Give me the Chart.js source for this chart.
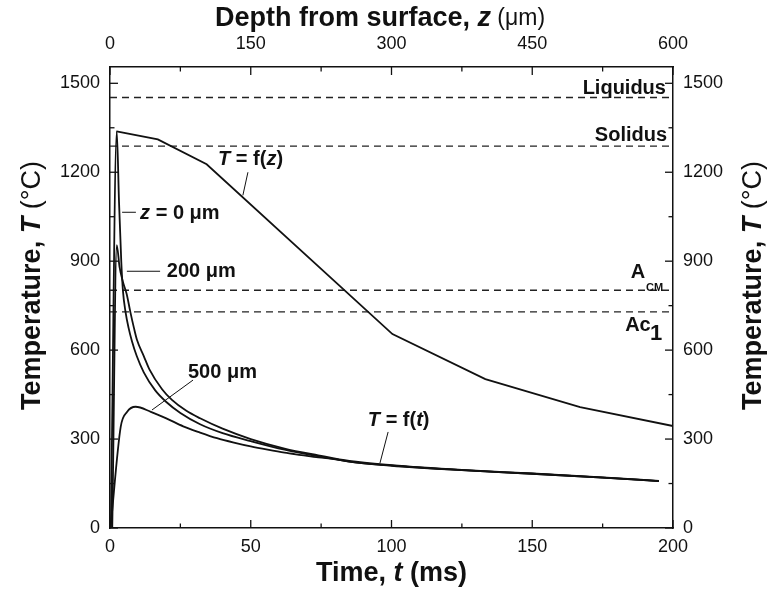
<!DOCTYPE html>
<html>
<head>
<meta charset="utf-8">
<script src="https://cdn.jsdelivr.net/npm/chart.js@4.4.1/dist/chart.umd.min.js"></script>
<style>
  html, body { margin: 0; background: #fff; }
  #wrap { width: 771px; height: 592px; }
</style>
</head>
<body>
<div id="wrap"><canvas id="chart"></canvas></div>
<script>
// tick labels
const timeTicks = [0, 50, 100, 150, 200];
const depthTicks = [0, 150, 300, 450, 600];
const tempTicks = [0, 300, 600, 900, 1200, 1500];

// T = f(t) at z = 0 um
const surfTime = [0.3, 2.4, 3.2, 4.0, 4.6, 5.5, 6.6, 7.8, 9.5, 12, 16, 20, 25, 32, 40, 50, 62, 74, 85, 100, 125, 150, 175, 195];
const surfTemp = [0, 1338, 1100, 900, 800, 730, 675, 630, 580, 525, 465, 425, 388, 350, 320, 293, 264, 242, 224, 210, 195, 183, 170, 158];

// T = f(t) at z = 200 um
const z200Time = [0.8, 2.4, 3.4, 4.6, 5.9, 7.2, 8.5, 9.6, 12, 14, 18.5, 22, 27, 32, 40, 50, 62, 74, 85, 100, 125, 150, 175, 195];
const z200Temp = [0, 954, 880, 830, 790, 730, 675, 634, 580, 535, 468, 432, 396, 370, 335, 300, 268, 245, 226, 212, 196, 184, 171, 159];

// T = f(t) at z = 500 um
const z500Time = [0.2, 3.8, 6.1, 9.1, 14.5, 20, 26, 32, 38, 44, 50, 56, 62, 68, 74, 80, 85, 97, 125, 150, 175, 195];
const z500Temp = [0, 341, 392, 409, 392, 370, 343, 322, 303, 288, 275, 264, 254, 246, 238, 232, 224, 213, 195, 183, 170, 158];

// peak T = f(z), top axis
const peakDepth = [7, 51, 103, 301, 400, 501, 600];
const peakTemp = [1338, 1311, 1227, 654, 502, 408, 344];

// reference temperatures
const refNames = ["Liquidus", "Solidus", "Acm", "Ac1"];
const refTemps = [1452, 1288, 802, 729];

const FONT = "'Liberation Sans', Arial, sans-serif";
const pts = (xs, ys) => xs.map((x, i) => ({ x, y: ys[i] }));

const curve = (label, data, xAxisID, smooth) => ({
  label, data, xAxisID, yAxisID: "y",
  borderColor: "#111", borderWidth: 1.8, pointRadius: 0, fill: false,
  cubicInterpolationMode: smooth ? "monotone" : "default", tension: 0
});

const datasets = [
  curve("z = 0", pts(surfTime, surfTemp), "x", true),
  curve("z = 200", pts(z200Time, z200Temp), "x", true),
  curve("z = 500", pts(z500Time, z500Temp), "x", true),
  curve("T = f(z)", pts(peakDepth, peakTemp), "x2", false)
];
refTemps.forEach((T, i) => {
  datasets.push({
    label: refNames[i],
    data: [{ x: timeTicks[0], y: T }, { x: timeTicks[timeTicks.length - 1], y: T }],
    xAxisID: "x", yAxisID: "y",
    borderColor: "#222", borderWidth: 1.4, borderDash: [7, 5], pointRadius: 0
  });
});

// labels, placed in data units (time ms, temperature)
const notes = [
  { parts: [["T", "italic bold"], [" = f(", "bold"], ["z", "italic bold"], [")", "bold"]], t: 38.4, T: 1244, align: "left" },
  { parts: [["z", "italic bold"], [" = 0 μm", "bold"]], t: 10.7, T: 1062, align: "left" },
  { parts: [["200 μm", "bold"]], t: 20.2, T: 866, align: "left" },
  { parts: [["500 μm", "bold"]], t: 27.7, T: 526, align: "left" },
  { parts: [["T", "italic bold"], [" = f(", "bold"], ["t", "italic bold"], [")", "bold"]], t: 91.6, T: 364, align: "left" },
  { parts: [["Liquidus", "bold"]], t: 197.5, T: 1483, align: "right" },
  { parts: [["Solidus", "bold"]], t: 197.9, T: 1325, align: "right" }
];
const leaders = [
  [49.0, 1200, 47.2, 1122],
  [4.3, 1065, 9.2, 1065],
  [6.0, 866, 17.8, 866],
  [29.5, 499, 14.9, 398],
  [98.8, 324, 95.9, 219]
];

function drawRich(ctx, parts, x, y, size, align, angle) {
  ctx.save();
  ctx.translate(x, y);
  if (angle) ctx.rotate(angle);
  let w = 0;
  parts.forEach(p => { ctx.font = `${p[1]} ${p[2] || size}px ${FONT}`; w += ctx.measureText(p[0]).width; });
  let cx = align === "center" ? -w / 2 : align === "right" ? -w : 0;
  ctx.textBaseline = "middle";
  ctx.textAlign = "left";
  ctx.fillStyle = "#111";
  parts.forEach(p => {
    ctx.font = `${p[1]} ${p[2] || size}px ${FONT}`;
    ctx.fillText(p[0], cx, 0);
    cx += ctx.measureText(p[0]).width;
  });
  ctx.restore();
}

const decor = {
  id: "decor",
  afterDraw(chart) {
    const { ctx, chartArea: a, scales } = chart;
    const { x, x2, y } = scales;
    ctx.save();
    ctx.strokeStyle = "#111";
    ctx.lineWidth = 1.3;
    const seg = (x1, y1, x2_, y2_) => { ctx.beginPath(); ctx.moveTo(x1, y1); ctx.lineTo(x2_, y2_); ctx.stroke(); };
    const withMinor = arr => {
      const out = [];
      arr.forEach((v, i) => { out.push([v, 8]); if (i < arr.length - 1) out.push([(v + arr[i + 1]) / 2, 4.5]); });
      return out;
    };
    withMinor(timeTicks).forEach(([v, l]) => { const p = x.getPixelForValue(v); seg(p, a.bottom, p, a.bottom - l); });
    withMinor(depthTicks).forEach(([v, l]) => { const p = x2.getPixelForValue(v); seg(p, a.top, p, a.top + l); });
    withMinor(tempTicks).forEach(([v, l]) => {
      const p = y.getPixelForValue(v);
      seg(a.left, p, a.left + l, p);
      seg(a.right, p, a.right - l, p);
    });

    // leader lines
    ctx.lineWidth = 1;
    leaders.forEach(([t1, T1, t2, T2]) => seg(x.getPixelForValue(t1), y.getPixelForValue(T1), x.getPixelForValue(t2), y.getPixelForValue(T2)));

    notes.forEach(n => drawRich(ctx, n.parts, x.getPixelForValue(n.t), y.getPixelForValue(n.T), 20, n.align));
    // A_CM and Ac_1
    drawRich(ctx, [["A", "bold"]], x.getPixelForValue(185.0), y.getPixelForValue(863), 20, "left");
    drawRich(ctx, [["CM", "bold", 11]], x.getPixelForValue(190.4), y.getPixelForValue(810), 11, "left");
    drawRich(ctx, [["Ac", "bold"]], x.getPixelForValue(183.0), y.getPixelForValue(683), 20, "left");
    drawRich(ctx, [["1", "bold", 22]], x.getPixelForValue(191.8), y.getPixelForValue(655), 22, "left");

    // axis titles
    const cy = (a.top + a.bottom) / 2;
    drawRich(ctx, [["Depth from surface, ", "bold"], ["z", "italic bold"], [" (μm)", "normal", 23]], 380, 19, 27, "center");
    drawRich(ctx, [["Time, ", "bold"], ["t", "italic bold"], [" (ms)", "bold"]], (a.left + a.right) / 2, 574, 27, "center");
    const ttl = [["Temperature, ", "bold"], ["T", "italic bold"], [" (°C)", "normal"]];
    drawRich(ctx, ttl, 33, cy - 12, 27, "center", -Math.PI / 2);
    drawRich(ctx, ttl, 754, cy - 12, 27, "center", -Math.PI / 2);
    ctx.restore();
  }
};

const tickFont = { family: FONT, size: 18 };
const setTicks = values => scale => { scale.ticks = values.map(v => ({ value: v })); };
const axis = (position, min, max, values, size, pad) => ({
  type: "linear", position, min, max,
  grid: { display: false, drawTicks: false },
  border: { display: true, color: "#111", width: 1.5 },
  ticks: { font: tickFont, color: "#111", padding: pad, maxRotation: 0, autoSkip: false, callback: v => String(v) },
  afterBuildTicks: setTicks(values),
  afterFit: scale => {
    if (position === "top" || position === "bottom") scale.height = size; else scale.width = size;
  }
});

new Chart(document.getElementById("chart"), {
  type: "line",
  data: { datasets },
  options: {
    responsive: true,
    maintainAspectRatio: false,
    animation: false,
    layout: { padding: 0 },
    plugins: { legend: { display: false }, tooltip: { enabled: false } },
    scales: {
      x: axis("bottom", 0, 200, timeTicks, 64, 8),
      x2: axis("top", 0, 600, depthTicks, 67, 12),
      y: axis("left", 0, 1555, tempTicks, 110, 10),
      y2: axis("right", 0, 1555, tempTicks, 98, 10)
    }
  },
  plugins: [decor]
});
</script>
</body>
</html>
